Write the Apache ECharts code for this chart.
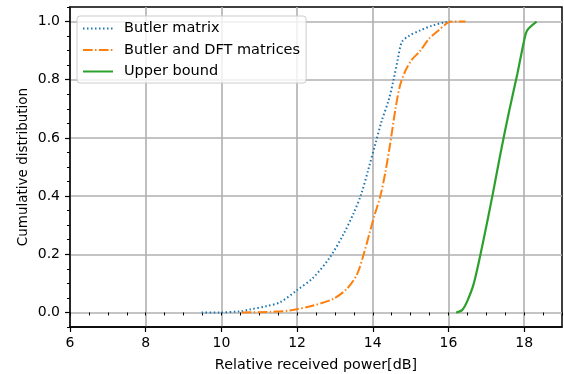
<!DOCTYPE html>
<html>
<head>
<meta charset="utf-8">
<script src="https://cdn.jsdelivr.net/npm/echarts@6/dist/echarts.min.js"></script>
<style>html,body{margin:0;padding:0;background:#fff}#c{width:564px;height:374px}</style>
</head>
<body>
<div id="c"></div>
<script>
const seriesNames = ['Butler matrix', 'Butler and DFT matrices', 'Upper bound'];
const butlerX = [9.48, 9.96, 10.5, 10.75, 11.2, 11.55, 11.99, 12.43, 12.87, 13.23, 13.49, 13.69, 13.89, 14.07, 14.24, 14.42, 14.55, 14.66, 14.77, 14.95, 15.26, 15.57, 15.92, 16.05];
const butlerY = [0, 0, 0.004, 0.01, 0.022, 0.035, 0.076, 0.12, 0.19, 0.27, 0.34, 0.405, 0.495, 0.58, 0.66, 0.73, 0.80, 0.87, 0.93, 0.95, 0.97, 0.986, 0.998, 1.0];
const dftX = [10.54, 11.3, 11.81, 12.43, 12.96, 13.32, 13.58, 13.76, 13.93, 14.06, 14.2, 14.33, 14.46, 14.6, 14.72, 14.86, 15.04, 15.26, 15.48, 15.74, 15.97, 16.1, 16.45];
const dftY = [0, 0.002, 0.007, 0.024, 0.047, 0.082, 0.13, 0.2, 0.28, 0.34, 0.40, 0.48, 0.58, 0.70, 0.78, 0.83, 0.87, 0.90, 0.94, 0.97, 0.995, 1.0, 1.0];
const upperX = [16.2, 16.36, 16.5, 16.67, 16.89, 17.16, 17.38, 17.6, 17.82, 18.0, 18.08, 18.33];
const upperY = [0, 0.008, 0.04, 0.10, 0.227, 0.40, 0.55, 0.69, 0.82, 0.935, 0.97, 1.0];
const xTicks = [6, 8, 10, 12, 14, 16, 18];
const yTicks = [0, 0.2, 0.4, 0.6, 0.8, 1.0];

const zip = (xs, ys) => xs.map((x, i) => [x, ys[i]]);
const font = 'DejaVu Sans';
const chart = echarts.init(document.getElementById('c'));
chart.setOption({
  animation: false,
  backgroundColor: '#fff',
  grid: { left: 70, right: 2, top: 7, bottom: 47, outerBoundsMode: 'none', containLabel: false, show: true, borderColor: '#000', borderWidth: 1.5, backgroundColor: 'transparent' },
  legend: {
    left: 77, top: 16, orient: 'vertical',
    itemWidth: 30, itemHeight: 14, itemGap: 6.5,
    padding: [5, 6, 4, 5],
    borderColor: '#cccccc', borderWidth: 1, borderRadius: 3,
    backgroundColor: 'rgba(255,255,255,0.8)',
    itemStyle: { opacity: 0 },
    textStyle: { fontFamily: font, fontSize: 14.5, color: '#000', padding: [0, 0, 0, 6] },
    data: seriesNames
  },
  xAxis: [{
    type: 'value', min: 6, max: 19, interval: 1,
    name: 'Relative received power[dB]', nameLocation: 'middle', nameGap: 31, nameMoveOverlap: false,
    nameTextStyle: { fontFamily: font, fontSize: 14.3, color: '#000' },
    axisLine: { show: true, onZero: false, lineStyle: { color: '#000', width: 1.5 } },
    axisTick: { show: true, customValues: xTicks, length: 5, lineStyle: { color: '#000', width: 1.2 } },
    axisLabel: { customValues: xTicks, margin: 9, fontFamily: font, fontSize: 14, color: '#000' },
    splitLine: { show: true, lineStyle: { color: '#b0b0b0', width: 1.6 } }
  }, {
    type: 'value', min: 6, max: 19, interval: 0.5, position: 'bottom',
    axisLine: { show: false },
    axisTick: { show: true, length: 3, lineStyle: { color: '#000', width: 1 } },
    axisLabel: { show: false }, splitLine: { show: false }
  }],
  yAxis: [{
    type: 'value', min: -0.05, max: 1.05, interval: 0.05,
    name: 'Cumulative distribution', nameLocation: 'middle', nameGap: 40, nameMoveOverlap: false,
    nameTextStyle: { fontFamily: font, fontSize: 13.5, color: '#000' },
    axisLine: { show: true, onZero: false, lineStyle: { color: '#000', width: 1.5 } },
    axisTick: { show: true, customValues: yTicks, length: 5, lineStyle: { color: '#000', width: 1.2 } },
    axisLabel: { customValues: yTicks, margin: 10, fontFamily: font, fontSize: 14, color: '#000', formatter: v => v.toFixed(1) },
    splitLine: { show: true, lineStyle: { color: '#b0b0b0', width: 1.6 } }
  }, {
    type: 'value', min: -0.05, max: 1.05, interval: 0.05, position: 'left',
    axisLine: { show: false },
    axisTick: { show: true, length: 3, lineStyle: { color: '#000', width: 1 } },
    axisLabel: { show: false }, splitLine: { show: false }
  }],
  series: [{
    name: seriesNames[0], type: 'line', data: zip(butlerX, butlerY), symbol: 'none', smooth: 0.3,
    itemStyle: { color: '#1f77b4' },
    lineStyle: { color: '#1f77b4', width: 2, type: [1.5, 2.5] }
  }, {
    name: seriesNames[1], type: 'line', data: zip(dftX, dftY), symbol: 'none', smooth: 0.3,
    itemStyle: { color: '#ff7f0e' },
    lineStyle: { color: '#ff7f0e', width: 2, type: [9.6, 2.4, 1.5, 2.4] }
  }, {
    name: seriesNames[2], type: 'line', data: zip(upperX, upperY), symbol: 'none', smooth: 0.3,
    itemStyle: { color: '#2ca02c' },
    lineStyle: { color: '#2ca02c', width: 2.2 }
  }]
});
</script>
</body>
</html>
